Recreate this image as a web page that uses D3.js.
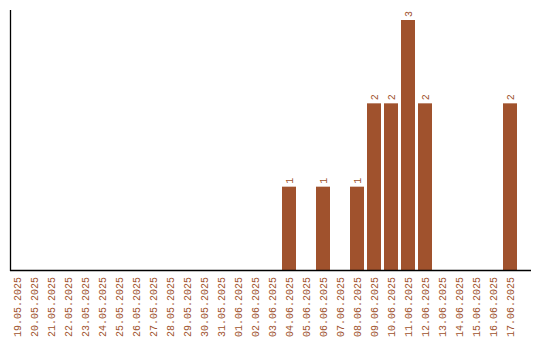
<!DOCTYPE html>
<html>
<head>
<meta charset="utf-8">
<script src="https://cdn.jsdelivr.net/npm/d3@7"></script>
<style>
body{margin:0;background:#fff;}
</style>
</head>
<body>
<script>
var dates=['19.05.2025','20.05.2025','21.05.2025','22.05.2025','23.05.2025','24.05.2025','25.05.2025','26.05.2025','27.05.2025','28.05.2025','29.05.2025','30.05.2025','31.05.2025','01.06.2025','02.06.2025','03.06.2025','04.06.2025','05.06.2025','06.06.2025','07.06.2025','08.06.2025','09.06.2025','10.06.2025','11.06.2025','12.06.2025','13.06.2025','14.06.2025','15.06.2025','16.06.2025','17.06.2025'];
var counts=[0,0,0,0,0,0,0,0,0,0,0,0,0,0,0,0,1,0,1,0,1,2,2,3,2,0,0,0,0,2];

var barColor="#a0522d";
var font="Liberation Mono";

var svg=d3.select("body").append("svg").attr("width",540).attr("height",340);

var x=d3.scaleBand()
  .domain(dates)
  .range([8.5,518.5])
  .paddingInner(3/17)
  .paddingOuter(3/34);
var y=d3.scaleLinear().domain([0,3]).range([270,20]);

var rows=dates.map(function(d,i){return {date:d,count:counts[i]};});

svg.selectAll("rect")
  .data(rows)
  .enter().append("rect")
    .attr("x",function(d){return x(d.date);})
    .attr("y",function(d){return y(d.count);})
    .attr("width",x.bandwidth())
    .attr("height",function(d){return 270-y(d.count);})
    .attr("fill",barColor);

// value labels above bars
svg.selectAll("text.val")
  .data(rows.filter(function(d){return d.count>0;}))
  .enter().append("text")
    .attr("class","val")
    .attr("transform",function(d){
      return "translate("+(x(d.date)+x.bandwidth()/2)+","+(y(d.count)-3)+") rotate(-90)";})
    .attr("dy","0.35em")
    .attr("font-family",font)
    .attr("font-size",10)
    .attr("fill",barColor)
    .text(function(d){return d.count;});

// axes lines
svg.append("line").attr("x1",10.5).attr("x2",10.5).attr("y1",10).attr("y2",271)
  .attr("stroke","#000").attr("stroke-width",1.3);
svg.append("line").attr("x1",10).attr("x2",531).attr("y1",270.5).attr("y2",270.5)
  .attr("stroke","#000").attr("stroke-width",1.3);

svg.selectAll("text.tick")
  .data(dates)
  .enter().append("text")
    .attr("class","tick")
    .attr("transform",function(d){return "translate("+(x(d)+x.bandwidth()/2)+",277) rotate(-90)";})
    .attr("text-anchor","end")
    .attr("dy","0.35em")
    .attr("font-family",font)
    .attr("font-size",10)
    .attr("fill",barColor)
    .text(function(d){return d;});
</script>
</body>
</html>
